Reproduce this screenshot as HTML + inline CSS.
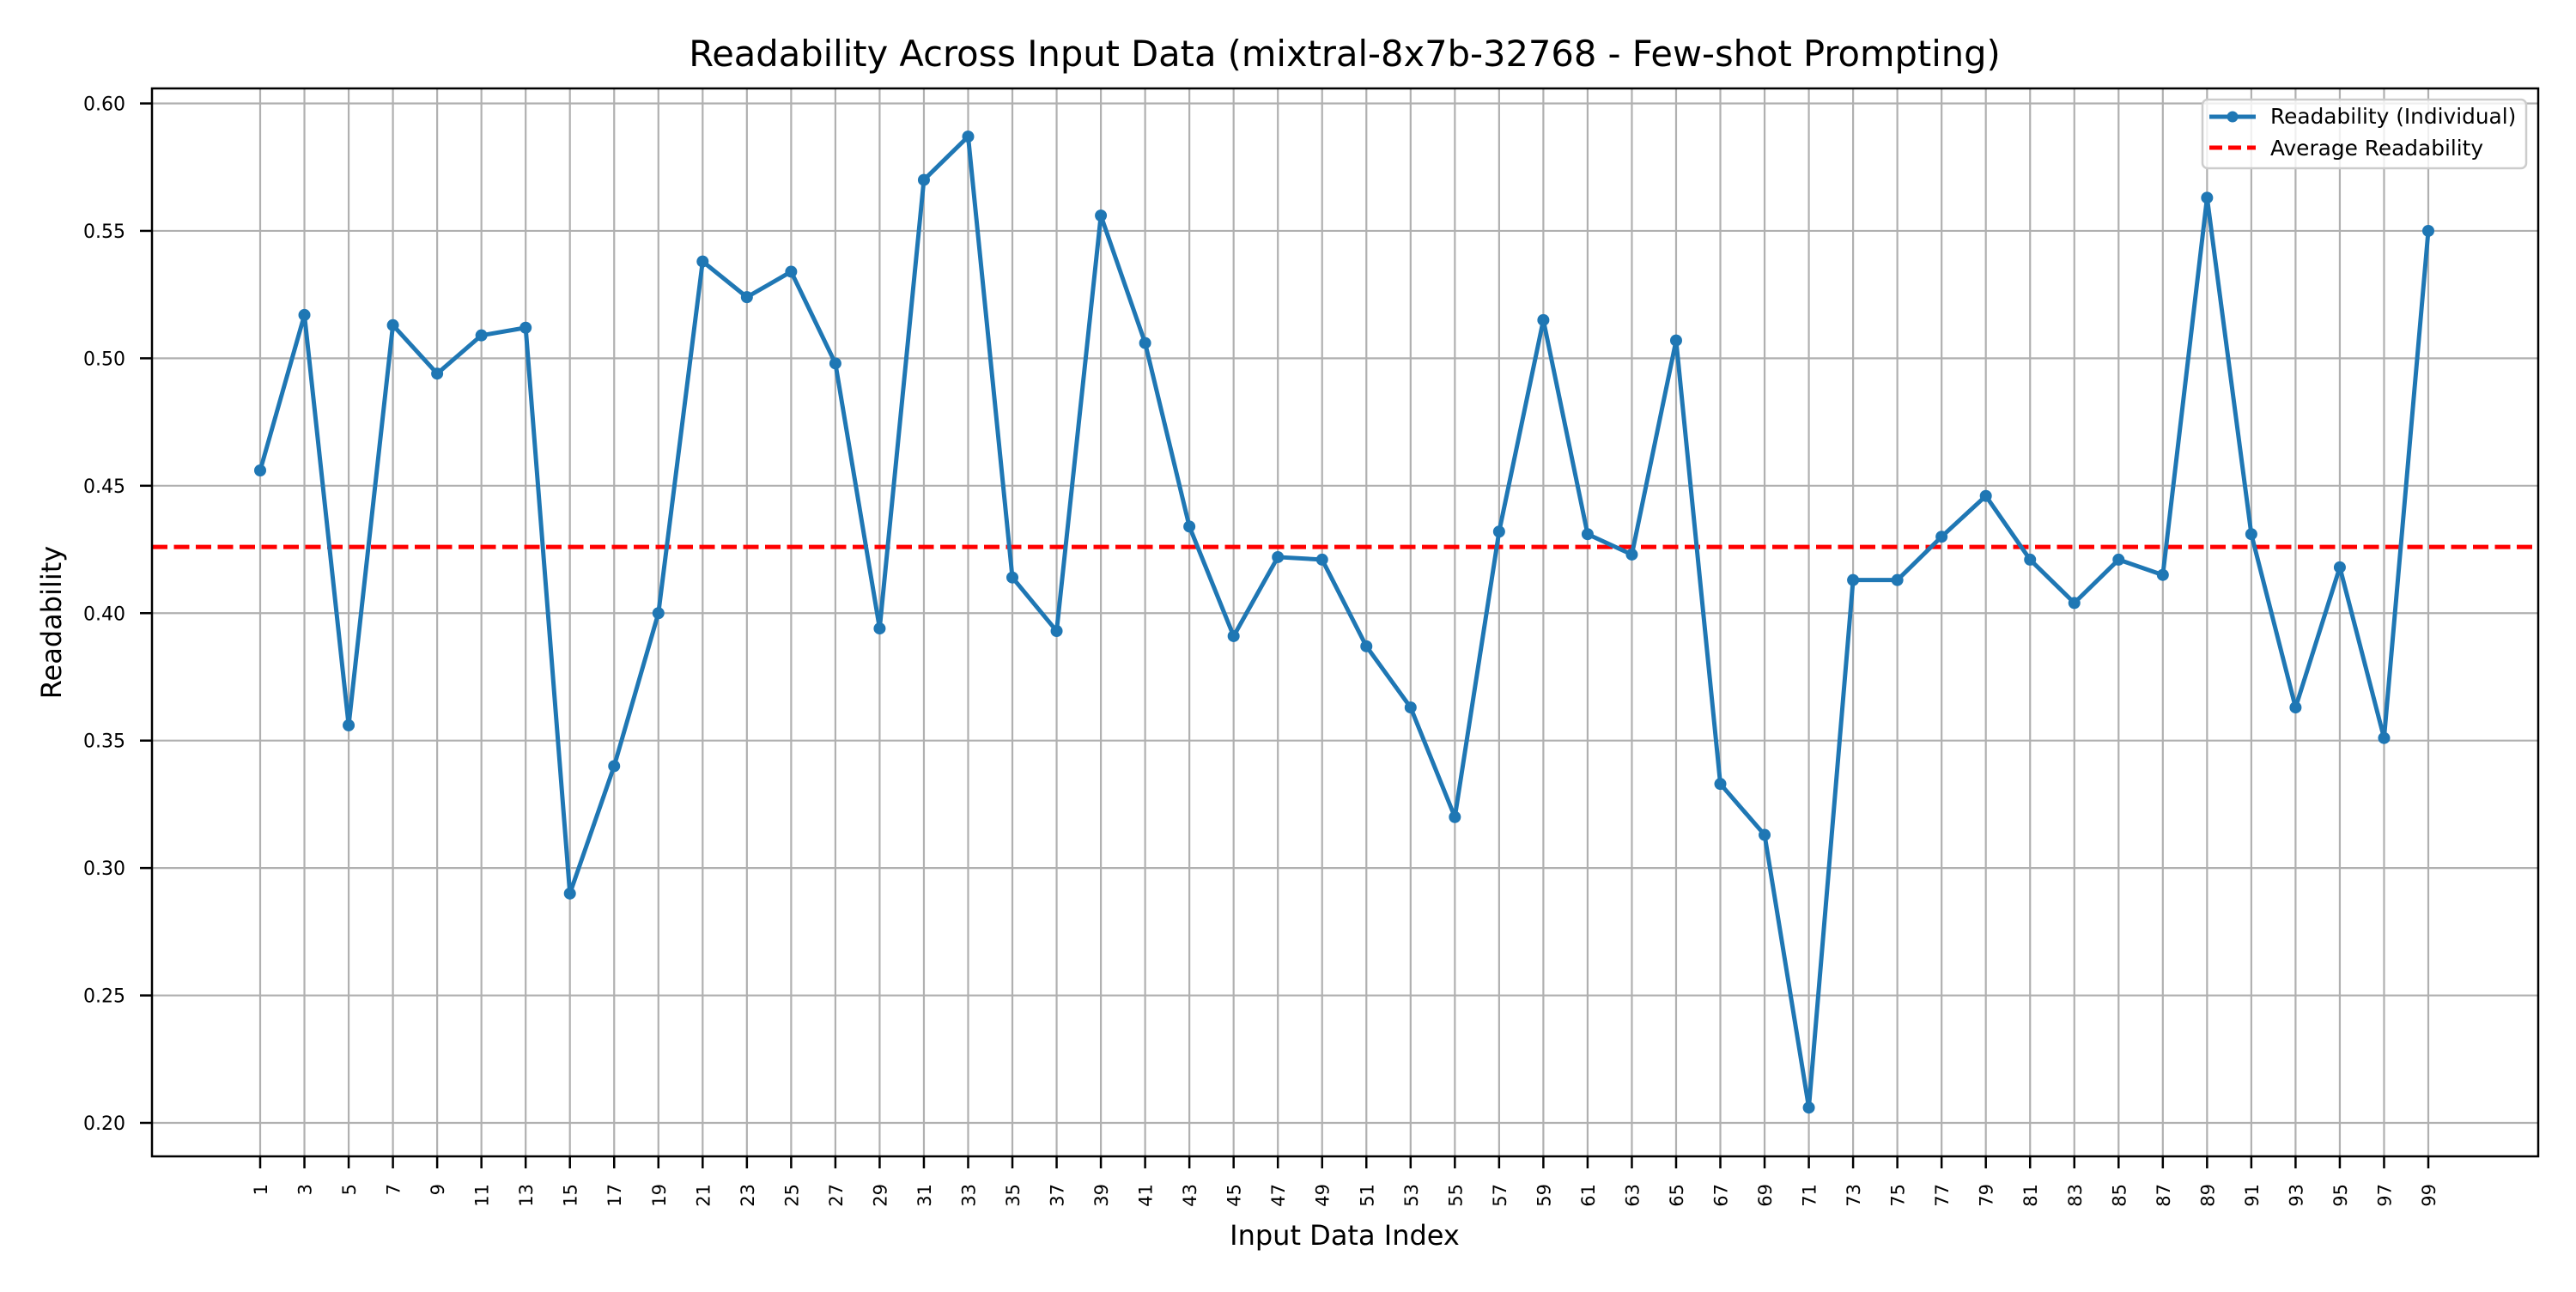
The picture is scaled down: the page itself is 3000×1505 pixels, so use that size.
<!DOCTYPE html>
<html><head><meta charset="utf-8"><style>
html,body{margin:0;padding:0;background:#fff;}
svg text{font-family:"DejaVu Sans","Liberation Sans",sans-serif;fill:#000;}
</style></head><body>
<svg id="chart" width="3000" height="1500" xmlns="http://www.w3.org/2000/svg">
<rect width="3000" height="1500" fill="#fff"/>
<text x="1566" y="77" font-size="41.6" text-anchor="middle">Readability Across Input Data (mixtral-8x7b-32768 - Few-shot Prompting)</text>
<text x="1566" y="1450" font-size="32" text-anchor="middle">Input Data Index</text>
<text x="0" y="0" font-size="32" text-anchor="middle" transform="translate(71,725) rotate(-90)">Readability</text>
<g id="grid"></g><g id="avg"></g><g id="series"></g><g id="axes"></g>
<g>
<rect x="2565" y="116" width="377" height="80" rx="6" fill="#fff" fill-opacity="0.8" stroke="#ccc" stroke-width="2.5"/>
<line x1="2573" y1="136" x2="2627" y2="136" stroke="#1f77b4" stroke-width="5"/>
<circle cx="2600" cy="136" r="6.5" fill="#1f77b4"/>
<text x="2644" y="144" font-size="24.8">Readability (Individual)</text>
<line x1="2573" y1="172" x2="2627" y2="172" stroke="#ff0000" stroke-width="5" stroke-dasharray="15,7"/>
<text x="2644" y="181" font-size="24.8">Average Readability</text>
</g>
</svg>
<script>
const indices=[];for(let i=1;i<=99;i+=2)indices.push(i);
const values=[0.456,0.517,0.356,0.513,0.494,0.509,0.512,0.290,0.340,0.400,0.538,0.524,0.534,0.498,0.394,0.570,0.587,0.414,0.393,0.556,0.506,0.434,0.391,0.422,0.421,0.387,0.363,0.320,0.432,0.515,0.431,0.423,0.507,0.333,0.313,0.206,0.413,0.413,0.430,0.446,0.421,0.404,0.421,0.415,0.563,0.431,0.363,0.418,0.351,0.550];
const average=[0.426];
const yTicks=[0.20,0.25,0.30,0.35,0.40,0.45,0.50,0.55,0.60];
const NS="http://www.w3.org/2000/svg";
const L=177,R=2956,T=103,B=1347;
function xs(i){return 303+(i-1)*(2828-303)/98;}
function ys(v){return 1308+(0.20-v)*(1308-120.5)/0.40;}
function mk(tag,attrs,parent){const e=document.createElementNS(NS,tag);for(const k in attrs)e.setAttribute(k,attrs[k]);parent.appendChild(e);return e;}
const grid=document.getElementById('grid'),axes=document.getElementById('axes'),ser=document.getElementById('series'),avg=document.getElementById('avg');
indices.forEach(i=>{const x=xs(i);
const g=mk('line',{x1:x,x2:x,y1:T,y2:B,stroke:'#b0b0b0','stroke-width':2.2},grid);


const t=mk('line',{x1:x,x2:x,y1:B,y2:B+14,stroke:'#000','stroke-width':2.5},axes);


const tx=mk('text',{x:0,y:0,'font-size':21,'text-anchor':'end',transform:`translate(${x+8},1379) rotate(-90)`},axes);
tx.textContent=i;


});
yTicks.forEach(v=>{const y=ys(v);
const g=mk('line',{x1:L,x2:R,y1:y,y2:y,stroke:'#b0b0b0','stroke-width':2.2},grid);


const t=mk('line',{x1:L-14,x2:L,y1:y,y2:y,stroke:'#000','stroke-width':2.5},axes);


const tx=mk('text',{x:L-31,y:y+8,'font-size':22,'text-anchor':'end'},axes);
tx.textContent=v.toFixed(2);


});
const ay=ys(average[0]);
const al=mk('line',{x1:L,x2:R,y1:ay,y2:ay,stroke:'#ff0000','stroke-width':5,'stroke-dasharray':'18,7.5'},avg);


const pl=mk('polyline',{points:indices.map((i,k)=>xs(i)+','+ys(values[k])).join(' '),fill:'none',stroke:'#1f77b4','stroke-width':5,'stroke-linejoin':'round'},ser);


indices.forEach((i,k)=>{const c=mk('circle',{cx:xs(i),cy:ys(values[k]),r:7,fill:'#1f77b4'},ser);


});
const fr=mk('rect',{x:L,y:T,width:R-L,height:B-T,fill:'none',stroke:'#000','stroke-width':2.5},axes);


</script>
</body></html>
